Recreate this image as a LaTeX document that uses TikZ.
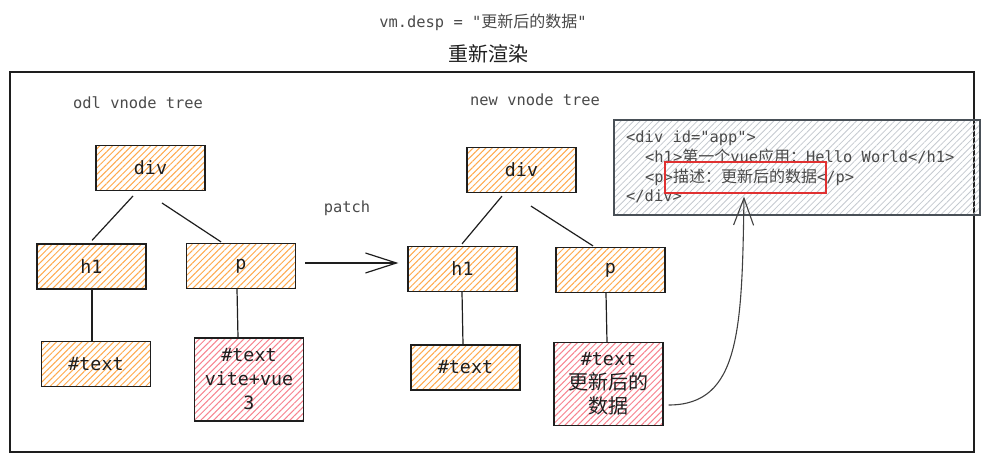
\documentclass[tikz,border=0pt]{standalone}
\usepackage{fontspec}
\setmonofont{DejaVu Sans Mono}
\newfontfamily\cjk{Noto Sans CJK SC}
\usetikzlibrary{patterns.meta,arrows.meta,calc}
\definecolor{ink}{HTML}{1E1E1E}
\definecolor{ohatch}{HTML}{FFA94D}
\definecolor{rhatch}{HTML}{F7838F}
\definecolor{ghatch}{HTML}{C4C9CF}
\definecolor{gframe}{HTML}{495057}
\definecolor{hlred}{HTML}{E03131}
\definecolor{gtext}{HTML}{4A4A4A}
\newcommand{\cjc}[1]{{\cjk\fontsize{16}{20}\selectfont #1}}
\newcommand{\cjb}[1]{{\cjk\fontsize{20}{24}\selectfont #1}}
\begin{document}
\begin{tikzpicture}[x=1pt,y=-1pt,
  obox/.style={draw=ink, line width=1.2pt,
    pattern={Lines[angle=45,distance=4.5pt,line width=1pt]}, pattern color=ohatch,
    minimum width=109pt, minimum height=45pt, inner sep=0pt,
    font=\ttfamily\fontsize{18.3}{24}\selectfont, text=ink},
  rbox/.style={obox, pattern color=rhatch, minimum height=83pt, align=center},
  conn/.style={draw=ink, line width=1.2pt},
  monolabel/.style={font=\ttfamily\fontsize{15.4}{20}\selectfont, text=gtext, inner sep=0pt},
  codeline/.style={font=\ttfamily\fontsize{15.4}{20}\selectfont, text=gtext, inner sep=0pt, anchor=base west},
  barb/.style={-{Straight Barb[length=#1pt,width=20pt]}}
]
\useasboundingbox (0,0) rectangle (989,462);

% headers
\node[monolabel, text=gtext] (topline) at (483,22) {vm.desp = "\cjc{更新后的数据}"};
\node[inner sep=0pt, font=\cjk\fontsize{20}{24}\selectfont, text=ink] (title) at (488,54) {重新渲染};

% outer frame
\draw[draw=ink, line width=1.3pt] (10,72) rectangle (974,452);

\node[monolabel, anchor=west] (oldlbl) at (73,103) {odl vnode tree};
\node[monolabel, anchor=west] (newlbl) at (470,100) {new vnode tree};
\node[monolabel] (patchlbl) at (347,208) {patch};

% old tree
\node[obox] (odiv) at (150.5,168) {div};
\node[obox] (oh1) at (91.5,266.5) {h1};
\node[obox] (op) at (241,266) {p};
\node[obox] (otext) at (96,364) {\#text};
\node[rbox] (ored) at (249,379.5) {\#text\\vite+vue\\3};

\draw[conn] ([shift={(-17.5,5)}]odiv.south) -- ([shift={(0.5,-3)}]oh1.north);
\draw[conn] ([shift={(11.5,12)}]odiv.south) -- ([shift={(-20,-1)}]op.north);
\draw[conn] ([shift={(0.5,0)}]oh1.south) -- ([shift={(-4,0)}]otext.north);
\draw[conn] ([shift={(-4,0)}]op.south) -- ([shift={(-11,0)}]ored.north);

% new tree
\node[obox] (ndiv) at (521.5,170) {div};
\node[obox] (nh1) at (462.5,269) {h1};
\node[obox] (np) at (610.5,270) {p};
\node[obox] (ntext) at (465.5,367.5) {\#text};
\node[rbox] (nred) at (608.5,384) {\#text\\\cjb{更新后的}\\\cjb{数据}};

\draw[conn] ([shift={(-19.5,3)}]ndiv.south) -- ([shift={(-0.5,-2)}]nh1.north);
\draw[conn] ([shift={(9.5,13)}]ndiv.south) -- ([shift={(-17.5,-1)}]np.north);
\draw[conn] ([shift={(-0.5,0)}]nh1.south) -- ([shift={(-2.5,0)}]ntext.north);
\draw[conn] ([shift={(-4.5,0)}]np.south) -- ([shift={(-1.5,0)}]nred.north);

% patch arrow
\draw[conn, barb=31] ([shift={(9,-3)}]op.east) -- ([shift={(-9,-6)}]nh1.west);

% code box
\node[draw=gframe, line width=1.2pt,
  pattern={Lines[angle=45,distance=4.5pt,line width=0.8pt]}, pattern color=ghatch,
  minimum width=366pt, minimum height=95pt, inner sep=0pt] (code) at (797,167.5) {};
\node[codeline] (c1) at (626,143) {<div id="app">};
\node[codeline] (c2) at (645,163) {<h1>\cjc{第一个}vue\cjc{应用：}Hello World</h1>};
\node[codeline] (c3) at (645,183) {<p>\cjc{描述：更新后的数据}</p>};
\node[codeline] (c4) at (626,202) {</div>};
\node[draw=hlred, line width=1.2pt, minimum width=161pt, minimum height=31pt, inner sep=0pt] (hl) at (745.5,177.5) {};

% curved arrow
\draw[draw=ink!85, line width=1.1pt, -{Straight Barb[length=27pt,width=20pt]}]
  ([shift={(5,21)}]nred.east) .. controls (740,405) and (742,330) .. ([shift={(-1.5,3)}]hl.south);
\end{tikzpicture}
\end{document}
